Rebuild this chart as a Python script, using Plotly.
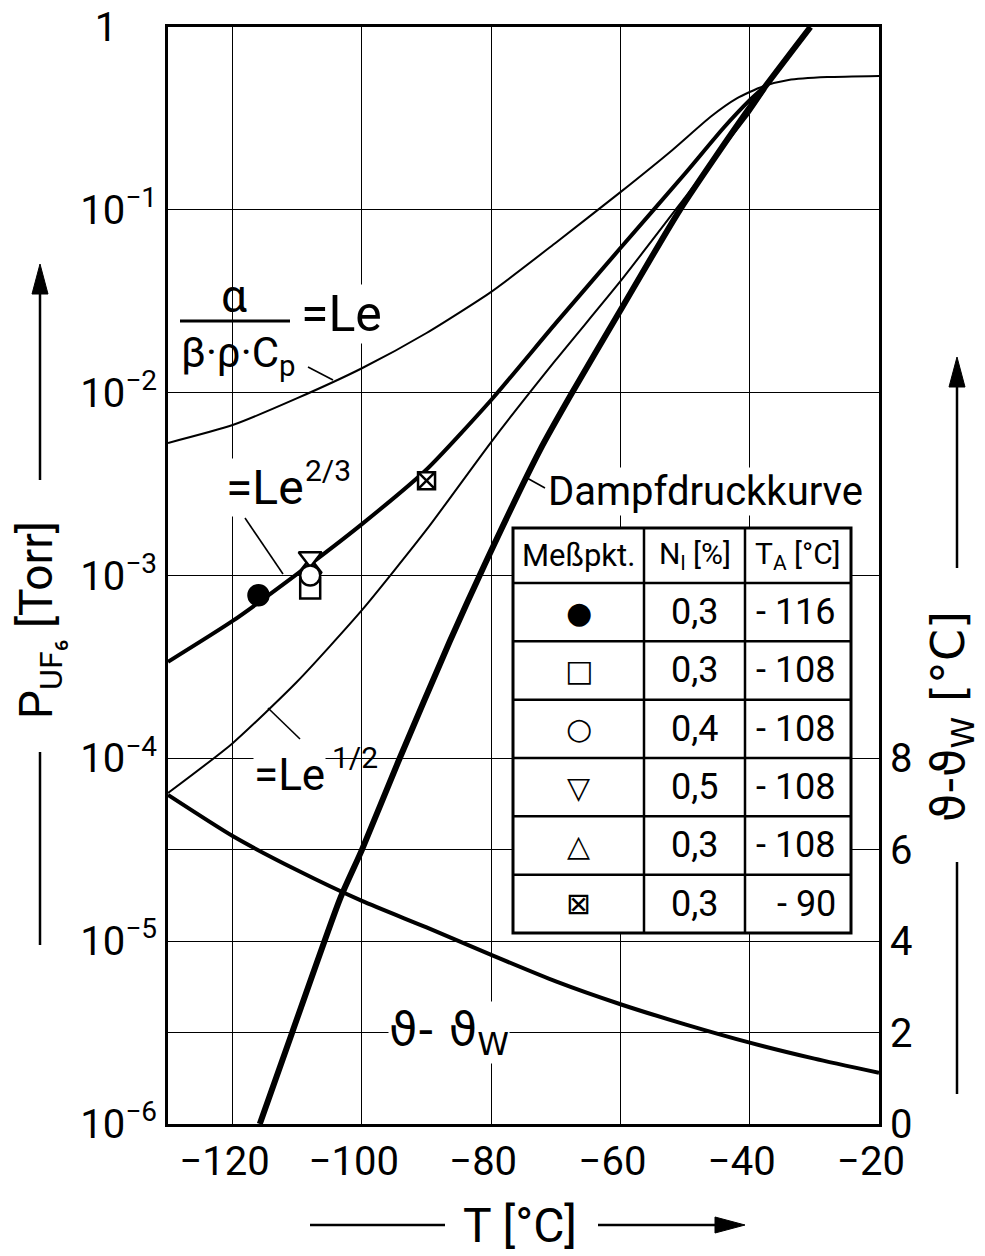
import plotly.graph_objects as go

# ---------------- data ----------------
# Le curve  (alpha / (beta*rho*cp) = Le)
T_LE = [-130, -120, -110, -100, -90, -80, -70, -60, -52, -46, -42, -38, -34, -28, -20]
P_LE = [5.31e-3, 6.65e-3, 9.33e-3, 1.36e-2, 2.12e-2, 3.56e-2, 6.61e-2, 0.125, 0.212, 0.324,
        0.407, 0.473, 0.513, 0.532, 0.540]

# Le^(2/3) curve
T_LE23 = [-130, -120, -110, -100, -90, -80, -70, -60, -50, -44, -40, -37.5]
P_LE23 = [3.37e-4, 5.64e-4, 1.02e-3, 1.91e-3, 3.80e-3, 9.12e-3, 2.40e-2, 6.18e-2, 0.158,
          0.282, 0.398, 0.479]

# Le^(1/2) curve
T_LE12 = [-130, -120, -110, -100, -90, -80, -70, -60, -50, -43.5, -40, -37.5]
P_LE12 = [6.46e-5, 1.21e-4, 2.63e-4, 6.46e-4, 1.78e-3, 5.37e-3, 1.51e-2, 4.07e-2, 0.117,
          0.234, 0.339, 0.457]

# vapour pressure curve of UF6
T_VP = [-115.8, -110.8, -103.4, -100, -94.4, -86.4, -81, -72.45, -67.8, -60, -50.8, -40, -30.6]
P_VP = [1e-6, 3.16e-6, 1.70e-5, 3.16e-5, 9.55e-5, 4.37e-4, 1.15e-3, 4.85e-3, 9.55e-3,
        2.82e-2, 0.100, 0.363, 1.0]

# temperature difference theta - theta_W  [°C]  (right axis)
T_DT = [-130, -120, -110, -100, -90, -80, -70, -60, -50, -40, -30, -20]
DT = [7.2, 6.3, 5.55, 4.88, 4.30, 3.70, 3.12, 2.62, 2.18, 1.78, 1.43, 1.12]

# measuring points
T_A = [-116, -108, -108, -108, -108, -90]
N_L = ["0,3", "0,3", "0,4", "0,5", "0,3", "0,3"]
P_MEAS = [7.8e-4, 8.5e-4, 1.0e-3, 1.26e-3, 1.1e-3, 3.3e-3]
SYMBOLS = ["circle", "square", "circle", "triangle-down", "triangle-up", "square-x"]
FILLS = ["black", "white", "white", "white", "white", "white"]
TABLE_GLYPHS = ["●", "□", "○", "▽", "△", "⊠"]

X_TICKS = [-120, -100, -80, -60, -40, -20]
Y_TICKS = [1e-6, 1e-5, 1e-4, 1e-3, 1e-2, 1e-1, 1]
Y_TICKTEXT = ["10<sup>−6</sup>", "10<sup>−5</sup>", "10<sup>−4</sup>", "10<sup>−3</sup>",
              "10<sup>−2</sup>", "10<sup>−1</sup>", "1" + "\u00a0" * 4]
Y2_TICKS = [0, 2, 4, 6, 8]

# ---------------- geometry ----------------
W, H = 985, 1256
PL, PR, PT, PB = 168, 879, 27, 1124   # plot frame in pixels

def px(x):
    return (x - PL) / (PR - PL)

def py(y):
    return (PB - y) / (PB - PT)

FONT = "Roboto, Liberation Sans, sans-serif"
SYM = "DejaVu Sans, sans-serif"

fig = go.Figure()

def curve(x, y, w, axis="y"):
    fig.add_trace(go.Scatter(x=x, y=y, yaxis=axis, mode="lines", hoverinfo="skip",
                             line=dict(color="black", width=w, shape="spline", smoothing=0.6)))

curve(T_LE, P_LE, 2)
curve(T_LE12, P_LE12, 2)
curve(T_LE23, P_LE23, 4)
curve(T_VP, P_VP, 6)
curve(T_DT, DT, 4, "y2")

order = [1, 4, 3, 2, 0, 5]
fig.add_trace(go.Scatter(
    x=[T_A[i] for i in order], y=[P_MEAS[i] for i in order], mode="markers", opacity=1,
    marker=dict(symbol=[SYMBOLS[i] for i in order], color=[FILLS[i] for i in order], opacity=1,
                size=[20 if SYMBOLS[i] != "square-x" else 17 for i in order],
                line=dict(color="black", width=2.5)),
))

axis_common = dict(showgrid=True, gridcolor="black", gridwidth=1.3, showline=True, linecolor="black",
                   linewidth=3, ticks="", zeroline=False, automargin=False)

fig.update_layout(
    width=W, height=H, autosize=False,
    margin=dict(l=PL, r=W - PR, t=PT, b=H - PB, pad=0),
    paper_bgcolor="white", plot_bgcolor="white", showlegend=False,
    xaxis=dict(range=[-130, -20], tickvals=X_TICKS, ticktext=[f"−{abs(v)}" for v in X_TICKS],
               ticklabelshift=-8, mirror=True,
               tickfont=dict(family=FONT, size=40, color="black"), **axis_common),
    yaxis=dict(type="log", range=[-6, 0], tickvals=Y_TICKS, ticktext=Y_TICKTEXT, mirror=True,
               tickfont=dict(family=FONT, size=40, color="black"), **axis_common),
    yaxis2=dict(overlaying="y", side="right", range=[0, 24], tickvals=Y2_TICKS,
                tickfont=dict(family=FONT, size=40, color="black"), **axis_common),
)

shapes = []
ann = []

def text(x, y, s, size, family=FONT, xanchor="center", yanchor="middle", angle=0, bg=None):
    ann.append(dict(xref="paper", yref="paper", x=px(x), y=py(y), text=s, showarrow=False,
                    xanchor=xanchor, yanchor=yanchor, textangle=angle, bgcolor=bg, borderpad=0,
                    font=dict(family=family, size=size, color="black")))

def seg(x0, y0, x1, y1, w=1.6):
    shapes.append(dict(type="line", xref="paper", yref="paper", x0=px(x0), y0=py(y0), x1=px(x1), y1=py(y1),
                       line=dict(color="black", width=w), layer="above"))

def head(xt, yt, direction, length=30, half=8):
    if direction == "up":
        pts = [(xt, yt), (xt - half, yt + length), (xt + half, yt + length)]
    else:  # right
        pts = [(xt, yt), (xt - length, yt - half), (xt - length, yt + half)]
    path = "M " + " L ".join(f"{px(a)},{py(b)}" for a, b in pts) + " Z"
    shapes.append(dict(type="path", xref="paper", yref="paper", path=path, fillcolor="black",
                       line=dict(color="black", width=1), layer="above"))

WHITE = "white"

# curve labels
text(234, 296, "α", 46)
seg(180, 321, 290, 321, 3)
text(238, 356, "β·ρ·C<sub>p</sub>", 42)
text(300, 314, "=Le", 50, xanchor="left", bg=WHITE)
seg(308, 367, 333, 380)

text(225, 487, "=Le", 48, xanchor="left", bg=WHITE)
text(304, 470, "2/3", 30, xanchor="left")
seg(245, 518, 283, 574)

text(253, 775, "=Le", 44, xanchor="left", bg=WHITE)
text(331, 757, "1/2", 30, xanchor="left")
seg(268, 708, 300, 739)

text(547, 492, "Dampfdruckkurve", 40, xanchor="left", bg=WHITE)
seg(527, 478, 545, 488)

text(388, 1032, "ϑ- ϑ<sub>W</sub>", 46, family=SYM, xanchor="left", bg=WHITE)

# table of measuring points
TX = [513, 644, 745, 851]
TY = [528, 583] + [583 + 58.33 * (k + 1) for k in range(6)]
shapes.append(dict(type="rect", xref="paper", yref="paper", x0=px(TX[0]), x1=px(TX[-1]), y0=py(TY[0]), y1=py(TY[-1]),
                   fillcolor="white", line=dict(color="black", width=3), layer="above"))
for xv in TX[1:-1]:
    seg(xv, TY[0], xv, TY[-1], 2.5)
for yv in TY[1:-1]:
    seg(TX[0], yv, TX[-1], yv, 2.5)
hy = (TY[0] + TY[1]) / 2
text((TX[0] + TX[1]) / 2, hy, "Meßpkt.", 31)
text((TX[1] + TX[2]) / 2, hy, "N<sub>l</sub> [%]", 30)
text((TX[2] + TX[3]) / 2, hy, "T<sub>A</sub> [°C]", 30)
for k in range(6):
    yc = (TY[k + 1] + TY[k + 2]) / 2
    text((TX[0] + TX[1]) / 2, yc, TABLE_GLYPHS[k], 30, family=SYM)
    text((TX[1] + TX[2]) / 2, yc, N_L[k], 36)
    text(TX[3] - 14, yc, f"- {abs(T_A[k])}", 36, xanchor="right")

# axis titles with arrows
# left
seg(40, 480, 40, 292, 2.5); head(40, 264, "up")
text(40, 620, "P<sub>UF₆</sub> [Torr]", 46, angle=-90)
seg(40, 752, 40, 945, 2.5)
# right
seg(957, 568, 957, 385, 2.5); head(957, 357, "up")
text(951, 717, "ϑ-ϑ<sub>W</sub> [°C]", 46, family=SYM, angle=-90)
seg(957, 862, 957, 1094, 2.5)
# bottom
seg(310, 1225, 445, 1225, 2.5)
text(520, 1225, "T [°C]", 48)
seg(598, 1225, 718, 1225, 2.5); head(745, 1225, "right")

fig.update_layout(shapes=shapes, annotations=ann)
fig.write_html("out.html")
